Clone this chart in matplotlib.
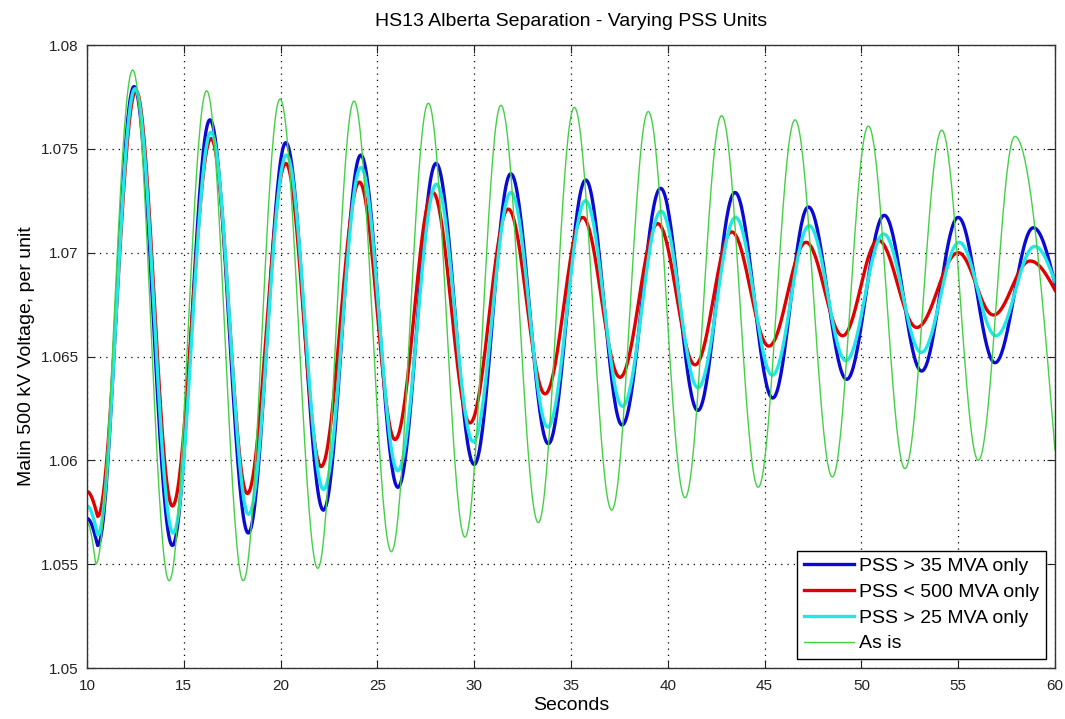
import numpy as np
import matplotlib
matplotlib.use("Agg")
import matplotlib.pyplot as plt

plt.rcParams["font.family"] = ["Liberation Sans", "DejaVu Sans"]

# extrema (start, trough/peak ..., end)
t_blue = [10.0, 10.55, 12.43, 14.41, 16.35, 18.33, 20.27, 22.21, 24.14, 26.06, 28.03, 30.00, 31.89,
          33.83, 35.76, 37.64, 39.63, 41.55, 43.47, 45.42, 47.26, 49.24, 51.18, 53.11, 55.00, 56.90, 58.88, 60.0]
v_blue = [1.0572, 1.0559, 1.0780, 1.0559, 1.0764, 1.0565, 1.0753, 1.0576, 1.0747, 1.0587, 1.0743, 1.0598, 1.0738,
          1.0608, 1.0735, 1.0617, 1.0731, 1.0624, 1.0729, 1.0630, 1.0722, 1.0639, 1.0718, 1.0643, 1.0717, 1.0647, 1.0712, 1.0685]

t_red = [10.0, 10.55, 12.53, 14.41, 16.41, 18.28, 20.27, 22.09, 24.07, 25.91, 27.86, 29.78, 31.76,
         33.66, 35.60, 37.53, 39.48, 41.41, 43.30, 45.22, 47.14, 49.03, 50.87, 52.86, 55.00, 56.82, 58.71, 60.0]
v_red = [1.0585, 1.0573, 1.0778, 1.0578, 1.0755, 1.0584, 1.0743, 1.0597, 1.0734, 1.0610, 1.0729, 1.0618, 1.0721,
         1.0632, 1.0717, 1.0640, 1.0714, 1.0646, 1.0710, 1.0655, 1.0705, 1.0660, 1.0706, 1.0664, 1.0700, 1.0670, 1.0696, 1.0682]

t_cyan = [10.0, 10.55, 12.48, 14.45, 16.40, 18.35, 20.30, 22.22, 24.15, 26.05, 28.05, 29.95, 31.90,
          33.80, 35.75, 37.66, 39.65, 41.56, 43.50, 45.40, 47.30, 49.20, 51.15, 53.10, 55.05, 56.95, 58.95, 60.0]
v_cyan = [1.0578, 1.0564, 1.0779, 1.0565, 1.0758, 1.0574, 1.0747, 1.0586, 1.0741, 1.0595, 1.0733, 1.0609, 1.0729,
          1.0616, 1.0725, 1.0626, 1.0720, 1.0635, 1.0717, 1.0641, 1.0713, 1.0648, 1.0709, 1.0652, 1.0705, 1.0660, 1.0703, 1.0686]

t_green = [10.0, 10.45, 12.36, 14.24, 16.18, 18.07, 19.97, 21.92, 23.79, 25.72, 27.63, 29.52, 31.38,
           33.31, 35.17, 37.10, 38.99, 40.89, 42.78, 44.67, 46.57, 48.50, 50.36, 52.25, 54.15, 56.04, 57.93, 60.0]
v_green = [1.0570, 1.0550, 1.0788, 1.0542, 1.0778, 1.0542, 1.0774, 1.0548, 1.0773, 1.0556, 1.0772, 1.0563, 1.0771,
           1.0570, 1.0770, 1.0576, 1.0768, 1.0582, 1.0766, 1.0587, 1.0764, 1.0592, 1.0761, 1.0596, 1.0759, 1.0600, 1.0756, 1.0605]

labels = ["PSS > 35 MVA only", "PSS < 500 MVA only", "PSS > 25 MVA only", "As is"]
colors = ["#0a0ad2", "#e00000", "#20e8e8", "#44d044"]
widths = [2.4, 2.4, 2.4, 1.0]


def smooth(ts, vs, n=40):
    # eased half-waves between the read extrema; quarter-waves at the open ends
    xs, ys = [], []
    last = len(ts) - 2
    for i in range(len(ts) - 1):
        t0, t1, a, b = ts[i], ts[i + 1], vs[i], vs[i + 1]
        s = np.linspace(0, 1, n, endpoint=False)
        if i == 0:
            y = b + (a - b) * np.cos(np.pi / 2 * s)
        elif i == last:
            y = a + (b - a) * (1 - np.cos(np.pi / 2 * s))
        else:
            y = a + (b - a) * (1 - np.cos(np.pi * s)) / 2
        xs.append(t0 + (t1 - t0) * s); ys.append(y)
    xs.append([ts[-1]]); ys.append([vs[-1]])
    return np.concatenate(xs), np.concatenate(ys)


fig = plt.figure(figsize=(10.65, 7.19), dpi=100)
ax = fig.add_axes([0.0817, 0.0709, 0.9089, 0.8665])

series = [(t_blue, v_blue), (t_red, v_red), (t_cyan, v_cyan), (t_green, v_green)]
for (ts, vs), lab, c, lw in zip(series, labels, colors, widths):
    x, y = smooth(ts, vs)
    ax.plot(x, y, color=c, lw=lw, label=lab)

ax.set_xlim(10, 60); ax.set_ylim(1.05, 1.08)
ax.set_xticks(range(10, 61, 5))
ax.set_yticks([1.05, 1.055, 1.06, 1.065, 1.07, 1.075, 1.08])
ax.set_yticklabels(["1.05", "1.055", "1.06", "1.065", "1.07", "1.075", "1.08"])
ax.tick_params(direction="in", top=True, right=True, length=6, labelsize=11, colors="#222222")
ax.tick_params(axis="x", pad=8)
ax.tick_params(axis="y", pad=6)
ax.grid(True, color="black", ls=(0, (1, 4)), lw=0.9)
for sp in ax.spines.values():
    sp.set_color("#333333"); sp.set_linewidth(1.0)

ax.set_title("HS13 Alberta Separation - Varying PSS Units", fontsize=14, pad=14)
ax.set_xlabel("Seconds", fontsize=14, labelpad=3)
ax.set_ylabel("Malin 500 kV Voltage, per unit", fontsize=14, labelpad=4)

leg = ax.legend(loc="lower right", fontsize=14, fancybox=False, framealpha=1, borderaxespad=0.45,
                handlelength=2.6, labelspacing=0.42, borderpad=0.35, handletextpad=0.25)
leg.get_frame().set_edgecolor("black"); leg.get_frame().set_linewidth(1.0)

fig.savefig("out.png", dpi=100)
